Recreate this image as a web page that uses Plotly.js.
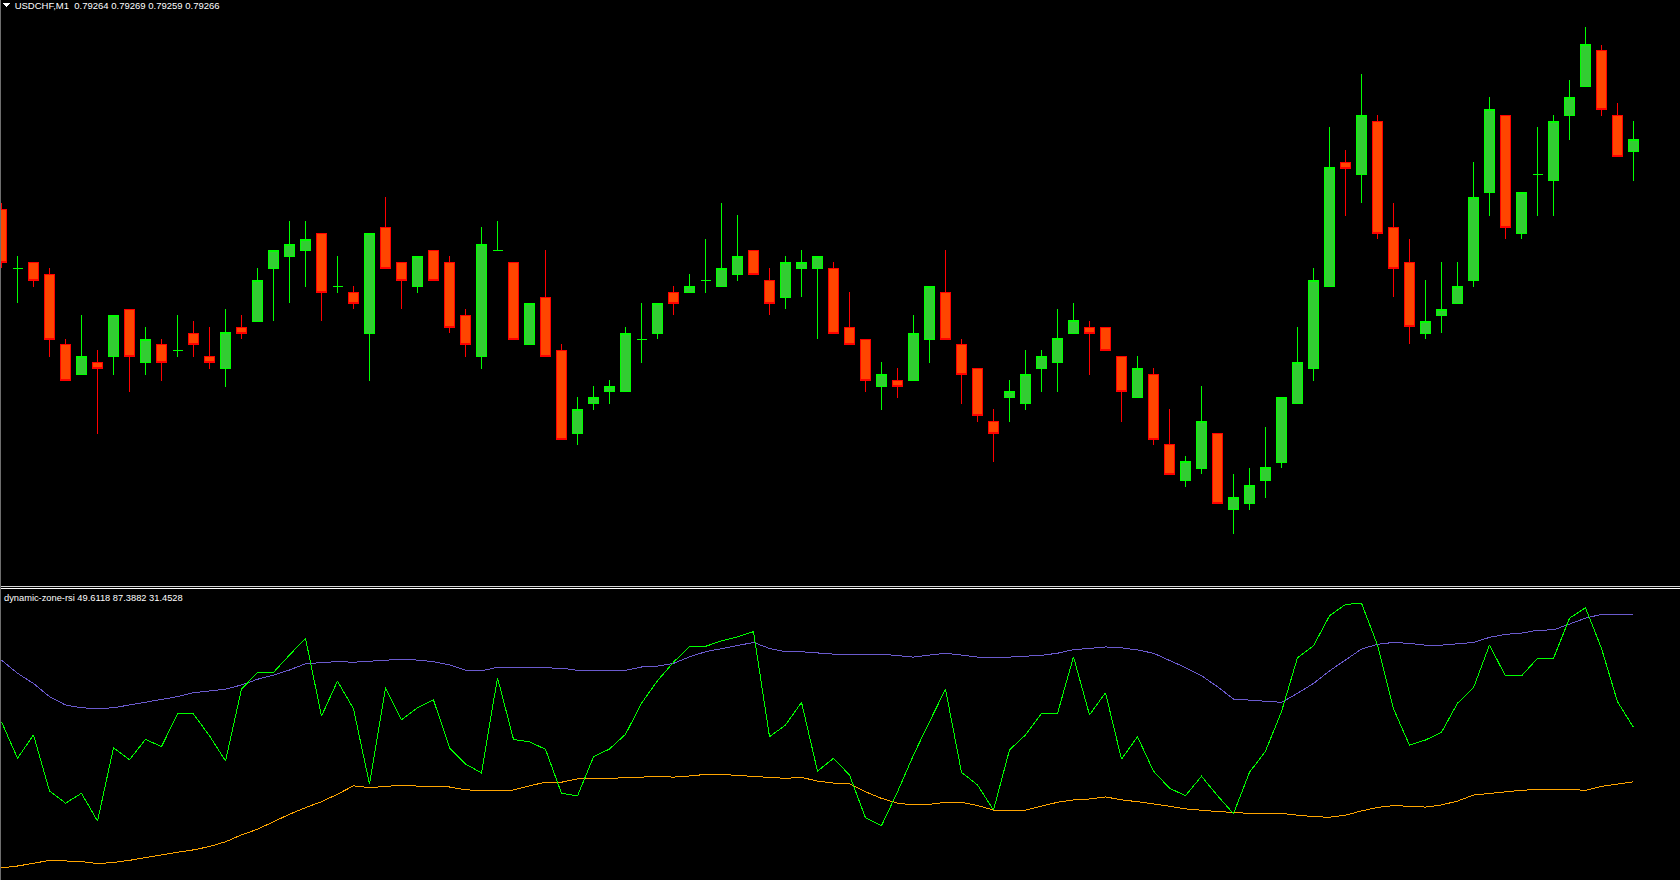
<!DOCTYPE html>
<html>
<head>
<meta charset="utf-8">
<script src="https://cdn.plot.ly/plotly-3.0.1.min.js"></script>
<style>
html,body{margin:0;padding:0;background:#000;overflow:hidden}
#chart{width:1680px;height:880px}
#chart .boxlayer path, #chart .scatterlayer path, #chart .layer-above path {shape-rendering:crispEdges}
</style>
</head>
<body>
<div id="chart"></div>
<script>
// ---------------- data ----------------
const symbolLabel = 'USDCHF,M1';
const indicatorName = 'dynamic-zone-rsi';

const openP = [
0.792543,0.792445,0.792455,0.792435,0.792318,0.792268,0.792288,0.792298,0.792376,0.792288,
0.792318,0.792308,0.792336,0.792298,0.792278,0.792346,0.792356,0.792444,0.792464,0.792474,
0.792503,0.792415,0.792405,0.792336,0.792513,0.792455,0.792414,0.792475,0.792455,0.792366,
0.792297,0.792475,0.792455,0.792317,0.792396,0.792308,0.792169,0.792219,0.792239,0.792239,
0.792326,0.792336,0.792405,0.792404,0.792425,0.792414,0.792434,0.792475,0.792425,0.792396,
0.792444,0.792444,0.792445,0.792346,0.792326,0.792247,0.792258,0.792257,0.792326,0.792405,
0.792318,0.792278,0.792190,0.792229,0.792219,0.792277,0.792287,0.792336,0.792346,0.792346,
0.792298,0.792229,0.792268,0.792151,0.792091,0.792111,0.792170,0.792042,0.792052,0.792091,
0.792121,0.792219,0.792277,0.792414,0.792621,0.792601,0.792690,0.792513,0.792454,0.792336,
0.792366,0.792386,0.792424,0.792571,0.792700,0.792503,0.792601,0.792591,0.792699,0.792747,
0.792808,0.792700,0.79264];
const highP = [
0.792553,0.792465,0.792455,0.792445,0.792327,0.792367,0.792308,0.792366,0.792376,0.792347,
0.792327,0.792367,0.792357,0.792347,0.792377,0.792367,0.792445,0.792475,0.792523,0.792523,
0.792503,0.792465,0.792415,0.792503,0.792563,0.792455,0.792465,0.792475,0.792465,0.792376,
0.792513,0.792523,0.792455,0.792386,0.792475,0.792318,0.792230,0.792248,0.792258,0.792347,
0.792386,0.792386,0.792415,0.792435,0.792493,0.792553,0.792533,0.792475,0.792445,0.792465,
0.792475,0.792465,0.792455,0.792405,0.792326,0.792288,0.792278,0.792367,0.792415,0.792475,
0.792327,0.792278,0.792210,0.792258,0.792308,0.792308,0.792377,0.792387,0.792357,0.792346,
0.792298,0.792298,0.792278,0.792210,0.792132,0.792248,0.792170,0.792102,0.792112,0.792180,
0.792230,0.792347,0.792445,0.792680,0.792642,0.792769,0.792700,0.792554,0.792494,0.792425,
0.792455,0.792455,0.792622,0.792730,0.792700,0.792571,0.792680,0.792700,0.792759,0.792847,
0.792817,0.792720,0.79269];
const lowP = [
0.792445,0.792386,0.792414,0.792297,0.792258,0.792268,0.792169,0.792267,0.792239,0.792267,
0.792257,0.792297,0.792297,0.792277,0.792247,0.792326,0.792356,0.792356,0.792386,0.792414,
0.792356,0.792404,0.792376,0.792257,0.792445,0.792376,0.792404,0.792425,0.792336,0.792297,
0.792277,0.792475,0.792326,0.792317,0.792297,0.792160,0.792150,0.792208,0.792219,0.792239,
0.792287,0.792326,0.792366,0.792404,0.792404,0.792414,0.792424,0.792434,0.792366,0.792376,
0.792396,0.792326,0.792336,0.792318,0.792239,0.792209,0.792229,0.792257,0.792287,0.792326,
0.792219,0.792189,0.792121,0.792189,0.792209,0.792239,0.792239,0.792336,0.792267,0.792308,
0.792189,0.792229,0.792150,0.792101,0.792080,0.792101,0.792053,0.792002,0.792042,0.792062,
0.792111,0.792219,0.792257,0.792414,0.792532,0.792553,0.792493,0.792396,0.792318,0.792326,
0.792336,0.792386,0.792414,0.792532,0.792493,0.792493,0.792532,0.792532,0.792659,0.792747,
0.792699,0.792631,0.79259];
const closeP = [
0.792455,0.792445,0.792425,0.792326,0.792258,0.792298,0.792278,0.792366,0.792298,0.792326,
0.792288,0.792308,0.792318,0.792288,0.792337,0.792336,0.792425,0.792475,0.792485,0.792493,
0.792404,0.792415,0.792386,0.792503,0.792445,0.792425,0.792465,0.792425,0.792346,0.792318,
0.792485,0.792475,0.792326,0.792386,0.792297,0.792160,0.792210,0.792230,0.792248,0.792336,
0.792326,0.792386,0.792386,0.792415,0.792425,0.792445,0.792465,0.792434,0.792386,0.792455,
0.792455,0.792465,0.792336,0.792318,0.792258,0.792268,0.792248,0.792336,0.792415,0.792326,
0.792268,0.792200,0.792170,0.792240,0.792268,0.792298,0.792327,0.792357,0.792336,0.792308,
0.792240,0.792278,0.792160,0.792101,0.792122,0.792190,0.792053,0.792063,0.792082,0.792112,
0.792230,0.792288,0.792425,0.792612,0.792611,0.792700,0.792503,0.792445,0.792347,0.792356,
0.792376,0.792415,0.792563,0.792710,0.792513,0.792571,0.792601,0.792690,0.792730,0.792817,
0.792709,0.792631,0.79266];

const rsi = [
51.5,39.3,47.1,28.4,24.3,27.6,18.3,42.8,38.8,45.6,
43.2,54.1,54.1,46.8,38.4,62.4,68.0,68.0,73.8,79.4,
53.4,65.1,55.8,30.7,62.9,52.2,56.2,58.8,42.8,37.4,
34.4,66.2,45.6,44.8,42.3,27.6,26.7,39.8,42.4,47.3,
57.7,65.2,71.4,76.7,76.7,78.5,79.9,81.6,46.5,50.4,
58.0,35.0,39.3,33.7,19.4,16.8,28.1,40.4,51.5,62.4,
34.6,30.4,22.0,42.1,47.1,54.3,54.3,73.2,53.8,61.2,
39.0,46.5,35.0,29.3,26.8,33.3,26.8,20.8,34.6,41.7,
54.9,72.9,76.9,86.9,90.7,91.1,77.1,55.8,43.7,45.4,
48.0,57.7,62.9,77.1,66.8,66.8,72.7,72.7,86.1,89.6,
76.0,58.2,49.6118];
const upperBand = [
72.1,67.7,64.3,59.9,57.1,56.2,55.8,56.2,57.1,58.0,
58.8,59.9,61.2,61.8,62.4,63.8,65.7,67.1,68.8,70.9,
71.2,71.6,71.4,71.8,72.2,72.4,72.1,71.6,70.5,68.7,
68.5,69.7,69.7,69.7,69.5,69.4,68.7,68.7,68.7,68.7,
69.8,70.1,71.0,73.2,74.9,76.0,76.9,78.0,76.0,74.9,
74.9,74.4,74.1,74.1,74.1,74.1,73.6,73.1,73.8,74.4,
73.8,73.1,73.1,73.1,73.4,73.7,74.4,75.6,76.0,76.5,
76.2,75.5,74.4,72.1,69.6,66.9,63.2,59.1,58.8,58.4,
58.0,61.0,64.3,68.5,72.1,75.8,77.4,78.0,77.7,77.1,
77.1,77.6,78.0,79.7,80.7,81.1,82.1,82.2,84.1,86.1,
87.4,87.4,87.3882];
const lowerBand = [
2.7,3.3,4.2,5.2,5.0,4.8,4.1,4.5,5.2,6.1,
7.2,7.9,8.7,9.8,11.4,13.7,15.6,18.1,20.6,22.8,
24.8,27.3,30.1,29.5,29.9,30.3,30.0,29.9,29.7,28.8,
28.4,28.6,28.7,30.1,31.3,31.3,32.4,32.4,32.6,32.6,
33.0,33.3,33.0,33.4,33.9,33.9,33.5,33.1,32.9,32.6,
32.9,31.7,31.0,30.8,28.1,25.9,24.3,23.7,23.9,24.6,
24.6,23.5,22.0,21.7,22.0,23.3,24.6,25.4,25.7,26.4,
25.4,24.8,24.1,23.3,22.4,21.9,21.5,21.2,20.9,20.9,
20.9,20.3,19.8,19.6,20.3,21.7,22.9,23.5,23.3,23.0,
23.7,25.0,27.0,27.6,28.1,28.6,28.9,28.9,28.9,28.6,
29.9,30.7,31.4528];

// ---------------- layout helpers ----------------
const W = 1680, H = 880;
const px = x => x / W;
const py = y => 1 - y / H;

const bars = openP.map((_, i) => i);
const isDoji = bars.map(i => openP[i] === closeP[i]);
const pick = (arr, want) => arr.filter((_, i) => isDoji[i] === want);

const GREEN_LINE = '#00ff00', GREEN_FILL = '#32cd32';
const RED_LINE = '#ff0000', RED_FILL = '#ff4500';

const candles = {
  type: 'candlestick', xaxis: 'x', yaxis: 'y',
  x: pick(bars, false), open: pick(openP, false), high: pick(highP, false),
  low: pick(lowP, false), close: pick(closeP, false),
  increasing: {line: {color: GREEN_LINE, width: 1}, fillcolor: GREEN_FILL},
  decreasing: {line: {color: RED_LINE, width: 1}, fillcolor: RED_FILL},
  whiskerwidth: 0, hoverinfo: 'skip', showlegend: false
};
const dojis = {
  type: 'candlestick', xaxis: 'x', yaxis: 'y',
  x: pick(bars, true), open: pick(openP, true), high: pick(highP, true),
  low: pick(lowP, true), close: pick(closeP, true),
  increasing: {line: {color: GREEN_LINE, width: 1}, fillcolor: GREEN_FILL},
  decreasing: {line: {color: GREEN_LINE, width: 1}, fillcolor: GREEN_FILL},
  whiskerwidth: 0, hoverinfo: 'skip', showlegend: false
};
const lineTrace = (y, color) => ({
  type: 'scatter', mode: 'lines', x: bars, y: y, xaxis: 'x2', yaxis: 'y2',
  line: {color: color, width: 1, shape: 'linear'}, hoverinfo: 'skip', showlegend: false
});

const last = openP.length - 1;
const header = '\u00a0' + symbolLabel + '\u00a0\u00a0' +
  [openP[last], highP[last], lowP[last], closeP[last]].map(v => v.toFixed(5)).join(' ');
const indLabel = indicatorName + ' ' +
  [rsi[last], upperBand[last], lowerBand[last]].map(v => v.toFixed(4)).join(' ');

const xRange = [-1.5 / 16, -1.5 / 16 + W / 16];
const hidden = {visible: false, fixedrange: true};

const layout = {
  width: W, height: H,
  margin: {l: 0, r: 0, t: 0, b: 0, pad: 0},
  paper_bgcolor: '#000000', plot_bgcolor: '#000000',
  showlegend: false,
  boxgap: 0.375, boxgroupgap: 0, boxmode: 'overlay',
  xaxis: Object.assign({}, hidden, {range: xRange, anchor: 'y', rangeslider: {visible: false}}),
  yaxis: Object.assign({}, hidden, {domain: [1 - 585 / H, 1], range: [0.7919168, 0.7928918], anchor: 'x'}),
  xaxis2: Object.assign({}, hidden, {range: xRange, anchor: 'y2'}),
  yaxis2: Object.assign({}, hidden, {domain: [0, 291 / H], range: [-1.37, 95.86], anchor: 'x2'}),
  shapes: [
    {type: 'line', xref: 'paper', yref: 'paper', x0: 0, x1: 1, y0: py(586.5), y1: py(586.5), line: {color: '#d4d4d4', width: 1}},
    {type: 'line', xref: 'paper', yref: 'paper', x0: 0, x1: 1, y0: py(588.5), y1: py(588.5), line: {color: '#ffffff', width: 1}},
    {type: 'line', xref: 'paper', yref: 'paper', x0: px(0.5), x1: px(0.5), y0: 0, y1: 1, line: {color: '#6e6e6e', width: 1}},
    {type: 'path', xref: 'paper', yref: 'paper', fillcolor: '#ffffff', line: {width: 0},
     path: 'M' + px(3) + ',' + py(3) + ' L' + px(10) + ',' + py(3) + ' L' + px(6.5) + ',' + py(7) + ' Z'}
  ],
  annotations: [
    {xref: 'paper', yref: 'paper', x: px(10), y: py(5), xanchor: 'left', yanchor: 'middle',
     text: header, showarrow: false, font: {family: 'Liberation Sans, Arial, sans-serif', size: 9.5, color: '#ffffff'}},
    {xref: 'paper', yref: 'paper', x: px(2), y: py(597.5), xanchor: 'left', yanchor: 'middle',
     text: indLabel, showarrow: false, font: {family: 'Liberation Sans, Arial, sans-serif', size: 9.3, color: '#ffffff'}}
  ]
};

Plotly.newPlot('chart', [candles, dojis,
  lineTrace(upperBand, '#6a5acd'),
  lineTrace(lowerBand, '#ffa500'),
  lineTrace(rsi, '#00ff00')], layout, {staticPlot: true, displayModeBar: false});
</script>
</body>
</html>
